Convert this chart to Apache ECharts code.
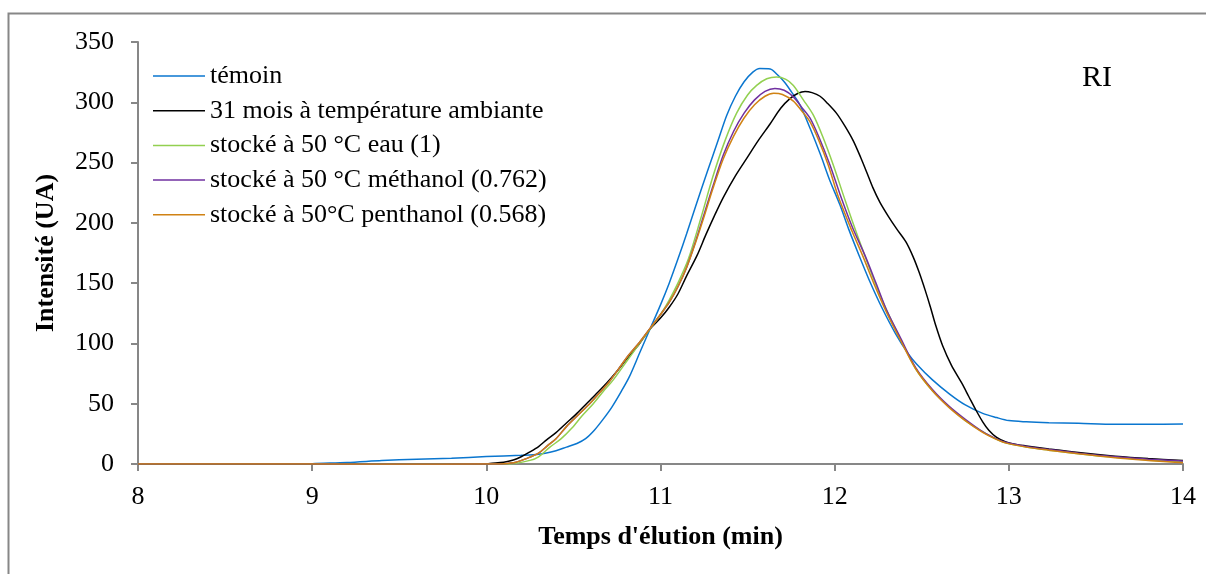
<!DOCTYPE html>
<html>
<head>
<meta charset="utf-8">
<script src="https://cdn.jsdelivr.net/npm/echarts@6/dist/echarts.min.js"></script>
<style>
  html, body { margin: 0; padding: 0; background: #fff; }
  #chart { width: 1206px; height: 574px; }
</style>
</head>
<body>
<div id="chart"></div>
<script>
// [temps (min), intensité (UA)]
var temoin = [[8,0],[8.3,0],[8.55,-0.5],[8.7,-1.5],[8.85,-1],[9.0,0.3],[9.2,1.2],[9.4,2.8],[9.6,4],[9.8,4.8],[10.0,6.2],[10.2,7.2],[10.3,8],[10.4,11],[10.46,14],[10.52,17],[10.57,21],[10.62,28],[10.67,37],[10.72,47],[10.77,59],[10.82,72],[10.88,92],[10.94,112],[11.0,132],[11.05,150],[11.1,170],[11.15,191],[11.2,213],[11.27,243],[11.33,268],[11.38,289],[11.43,305],[11.48,317],[11.53,325],[11.57,328],[11.63,327.6],[11.67,323],[11.71,317],[11.75,309],[11.8,298],[11.86,278],[11.92,256],[11.97,236],[12.03,215],[12.08,195],[12.14,173],[12.2,152],[12.27,130],[12.35,108],[12.42,92],[12.47,83],[12.56,70],[12.66,58],[12.75,49],[12.85,42],[12.93,38.5],[13.0,36],[13.1,35],[13.23,34.3],[13.4,33.8],[13.61,33],[13.8,33],[14,33.2]];
var ambiante = [[8,0],[9,0],[10,0],[10.02,0.5],[10.1,1.5],[10.155,3.3],[10.2,6],[10.25,10],[10.3,14.5],[10.346,20],[10.4,26],[10.46,34],[10.52,42],[10.575,50],[10.63,58],[10.69,67],[10.75,77],[10.8,86],[10.88,100],[10.94,112],[11.0,121],[11.05,130],[11.1,141],[11.15,156],[11.21,173],[11.26,190],[11.31,206],[11.36,221],[11.43,239],[11.495,253.5],[11.56,268],[11.629,282],[11.69,295],[11.743,303],[11.79,307.5],[11.83,309],[11.87,308],[11.916,305],[11.96,299],[12.01,291],[12.06,280],[12.107,268],[12.15,254],[12.184,242],[12.22,229],[12.26,217],[12.31,205],[12.356,195],[12.41,184],[12.45,172],[12.485,159],[12.52,144],[12.55,130],[12.58,115],[12.62,98],[12.67,82],[12.73,67],[12.77,56],[12.81,45],[12.85,35],[12.885,28],[12.93,22],[12.98,18.5],[13.05,16],[13.1,15],[13.23,12.5],[13.4,9.5],[13.61,6.5],[13.8,4.5],[14,3]];
var eau = [[8,0],[9,0],[10,0],[10.15,0.3],[10.25,3],[10.3,6],[10.365,14],[10.43,21],[10.49,29.6],[10.55,40],[10.614,50],[10.67,60],[10.73,70],[10.81,86],[10.88,100],[10.94,112],[11.0,124],[11.05,136],[11.1,150],[11.16,170],[11.23,203],[11.3,238],[11.37,268],[11.437,291],[11.5,306],[11.552,314],[11.61,319.5],[11.667,321],[11.72,319],[11.763,314],[11.82,302],[11.877,289.5],[11.93,272],[11.992,248],[12.05,223],[12.1,202],[12.165,176],[12.23,151],[12.3,127],[12.38,103],[12.465,79],[12.56,61],[12.656,47.5],[12.75,36],[12.847,27],[12.92,21],[12.98,17.5],[13.1,14],[13.23,11.5],[13.4,8.5],[13.61,5.5],[13.8,3.2],[14,1.8]];
var methanol = [[8,0],[9,0],[9.5,-0.3],[10,0],[10.1,0.3],[10.17,1.5],[10.23,4.5],[10.3,9],[10.35,15],[10.4,21],[10.46,31],[10.53,41],[10.6,51],[10.65,59],[10.71,69],[10.81,89],[10.88,101],[10.94,112.5],[11.0,124],[11.05,134],[11.1,147],[11.15,163],[11.2,184],[11.25,207],[11.3,230],[11.36,256],[11.42,276],[11.48,291],[11.54,302],[11.6,309],[11.657,311.5],[11.71,310],[11.763,304.5],[11.81,296],[11.858,287],[11.91,271],[11.973,248],[12.03,224],[12.1,197],[12.174,173],[12.24,149],[12.3,127],[12.38,104],[12.465,80],[12.56,62],[12.656,48],[12.75,37],[12.847,27],[12.92,21.5],[12.98,18],[13.1,14.5],[13.23,12],[13.4,9],[13.61,6],[13.8,4],[14,2.5]];
var penthanol = [[8,0],[9,0],[9.5,-0.3],[10,0],[10.1,0.3],[10.17,1.5],[10.23,4.5],[10.3,9],[10.35,15],[10.4,21],[10.46,31],[10.53,41],[10.6,51],[10.65,59],[10.71,69],[10.81,89],[10.88,101],[10.94,112.5],[11.0,124],[11.05,134],[11.1,147],[11.15,163],[11.2,183],[11.25,205],[11.3,228],[11.36,253],[11.42,272],[11.48,287],[11.54,298],[11.6,305],[11.65,307.5],[11.7,306.5],[11.763,301],[11.81,293],[11.858,284],[11.91,268],[11.963,248],[12.02,222],[12.1,193],[12.16,173],[12.23,148],[12.3,125],[12.38,102],[12.465,79],[12.56,61],[12.656,47],[12.75,36],[12.847,26.5],[12.92,21],[12.98,17.5],[13.1,14],[13.23,11.5],[13.4,8.5],[13.61,5.2],[13.8,3],[14,1]];

var seriesNames = ["témoin", "31 mois à température ambiante", "stocké à 50 °C eau (1)", "stocké à 50 °C méthanol (0.762)", "stocké à 50°C penthanol (0.568)"];
var seriesData = [temoin, ambiante, eau, methanol, penthanol];
var seriesColors = ["#0a76cf", "#000000", "#92d050", "#7030a0", "#d08214"];

var font = "Liberation Serif, Times New Roman, serif";
var axisGrey = "#878787";

var myChart = echarts.init(document.getElementById("chart"));

var series = seriesData.map(function(d, i) {
  return {
    name: seriesNames[i],
    type: "line",
    data: d,
    smooth: 0.3,
    showSymbol: false,
    lineStyle: { color: seriesColors[i], width: 1.5 },
    itemStyle: { color: seriesColors[i] }
  };
});

myChart.setOption({
  animation: false,
  backgroundColor: "#fff",
  grid: { left: 138, right: 23, top: 42, bottom: 110 },
  legend: {
    orient: "vertical",
    left: 148,
    top: 58,
    icon: "rect",
    itemWidth: 52,
    itemHeight: 1.5,
    itemGap: 8.7,
    data: seriesNames,
    textStyle: { fontFamily: font, fontSize: 26, color: "#000", lineHeight: 26 }
  },
  xAxis: {
    type: "value",
    min: 8,
    max: 14,
    interval: 1,
    name: "Temps d'élution (min)",
    nameLocation: "middle",
    nameGap: 60,
    nameTextStyle: { fontFamily: font, fontSize: 26, fontWeight: "bold", color: "#000" },
    axisLine: { lineStyle: { color: axisGrey, width: 2 } },
    axisTick: { show: true, length: 7, lineStyle: { color: axisGrey, width: 2 } },
    axisLabel: { fontFamily: font, fontSize: 26, color: "#000", margin: 20 },
    splitLine: { show: false }
  },
  yAxis: {
    type: "value",
    min: 0,
    max: 350,
    interval: 50,
    name: "Intensité (UA)",
    nameLocation: "middle",
    nameGap: 79,
    nameRotate: 90,
    nameTextStyle: { fontFamily: font, fontSize: 26, fontWeight: "bold", color: "#000" },
    axisLine: { show: true, lineStyle: { color: axisGrey, width: 2 } },
    axisTick: { show: true, length: 7, lineStyle: { color: axisGrey, width: 2 } },
    axisLabel: { fontFamily: font, fontSize: 26, color: "#000", margin: 24 },
    splitLine: { show: false }
  },
  graphic: [
    {
      type: "rect",
      left: 6,
      top: 11,
      shape: { width: 1300, height: 700 },
      style: { fill: "none", stroke: axisGrey, lineWidth: 2 },
      silent: true
    },
    {
      type: "text",
      left: 1082,
      top: 63,
      style: { text: "RI", font: "30px " + font, fill: "#000" }
    }
  ],
  series: series
});
</script>
</body>
</html>
